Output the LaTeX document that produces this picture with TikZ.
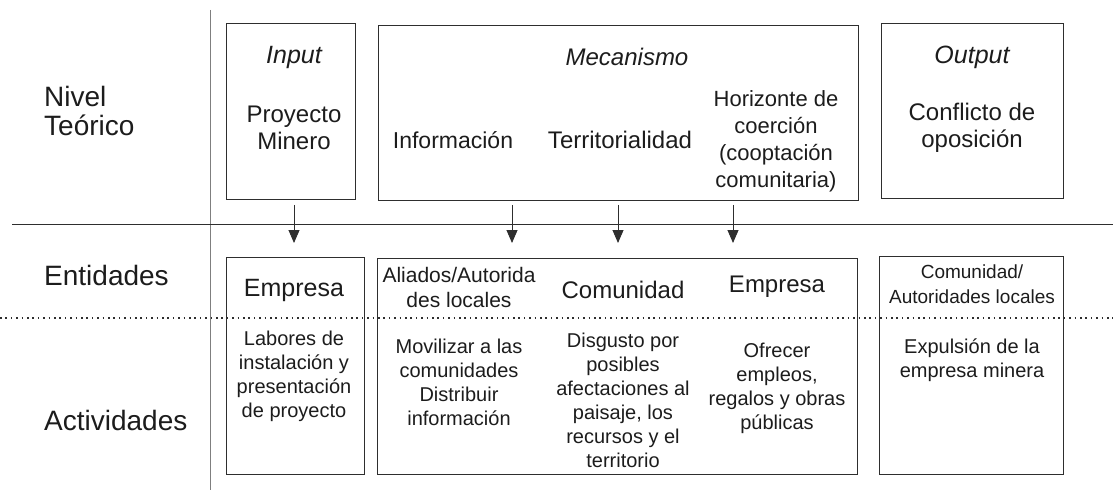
\documentclass[tikz,border=0pt]{standalone}
\usepackage{fontspec}
\setmainfont{Liberation Sans}
\usetikzlibrary{arrows.meta}
\definecolor{txt}{HTML}{1C1C1C}
\definecolor{ln}{HTML}{2E2E2E}
\definecolor{vln}{HTML}{7F7F7F}
\begin{document}
\begin{tikzpicture}[x=1pt,y=-1pt,
  box/.style={draw=ln, line width=0.9pt, inner sep=0pt},
  lab/.style={text=txt, anchor=west, align=left, inner xsep=0pt, font=\fontsize{28}{29}\selectfont},
  ttl/.style={text=txt, align=center, font=\fontsize{24}{27}\selectfont\itshape},
  toptxt/.style={text=txt, align=center, font=\fontsize{23}{27}\selectfont},
  ent/.style={text=txt, align=center, font=\fontsize{22.5}{25}\selectfont},
  act/.style={text=txt, align=center, font=\fontsize{20}{24}\selectfont},
  arr/.style={draw=ln, line width=0.9pt, -{Triangle[width=11pt,length=13pt]}}]
\useasboundingbox (0,0) rectangle (1113,497);

% frame lines
\coordinate (vt) at (210,10);
\coordinate (vb) at (210,490);
\coordinate (hl) at (12,224);
\coordinate (hr) at (1113,224);
\coordinate (dl) at (0,318);
\coordinate (dr) at (1113,318);
\draw[draw=vln, line width=1pt] (vt) -- (vb);
\draw[draw=ln, line width=0.9pt] (hl) -- (hr);

% row labels
\node[lab] (nivel) at (44,111) {Nivel\\Teórico};
\node[lab] (entid) at (44,275) {Entidades};
\node[lab] (activ) at (44,420) {Actividades};

% top boxes
\node[box, minimum width=129pt, minimum height=176pt] (inbox) at (290.5,111) {};
\node[box, minimum width=480pt, minimum height=175pt] (mechbox) at (618,112.5) {};
\node[box, minimum width=182pt, minimum height=175pt] (outbox) at (972,110.5) {};

\node[ttl, font=\fontsize{25}{27}\selectfont\itshape] (input) at (294,57) {Input};
\node[toptxt, font=\fontsize{24}{27}\selectfont] (proy) at (294,128) {Proyecto\\Minero};
\node[ttl] (mecan) at (627,57) {Mecanismo};
\node[toptxt] (info) at (453,140) {Información};
\node[toptxt, font=\fontsize{24}{27}\selectfont] (terr) at (620,140) {Territorialidad};
\node[toptxt, font=\fontsize{22}{27}\selectfont] (horiz) at (776,141) {Horizonte de\\coerción\\(cooptación\\comunitaria)};
\node[ttl, font=\fontsize{25}{27}\selectfont\itshape] (output) at (972,57) {Output};
\node[toptxt, font=\fontsize{24}{27}\selectfont] (confl) at (972,128) {Conflicto de\\oposición};

% bottom boxes
\node[box, minimum width=138pt, minimum height=217pt] (empbox) at (295,365.5) {};
\node[box, minimum width=480pt, minimum height=216pt] (midbox) at (617,366) {};
\node[box, minimum width=184pt, minimum height=218pt] (outbbox) at (971,365) {};

\node[ent, font=\fontsize{25}{27}\selectfont] (emp1) at (294,290) {Empresa};
\node[ent, font=\fontsize{21}{25}\selectfont] (aliados) at (459,287) {Aliados/Autorida\\des locales};
\node[ent, font=\fontsize{24}{27}\selectfont] (comun) at (623,290) {Comunidad};
\node[ent, font=\fontsize{24}{27}\selectfont] (emp2) at (777,287) {Empresa};
\node[ent, font=\fontsize{19}{25}\selectfont] (comaut) at (972,284) {Comunidad/\\Autoridades locales};

\node[act] (labores) at (294,376) {Labores de\\instalación y\\presentación\\de proyecto};
\node[act] (moviliz) at (459,382) {Movilizar a las\\comunidades\\Distribuir\\información};
\node[act] (disgusto) at (623,400) {Disgusto por\\posibles\\afectaciones al\\paisaje, los\\recursos y el\\territorio};
\node[act] (ofrecer) at (777,388) {Ofrecer\\empleos,\\regalos y obras\\públicas};
\node[act] (expul) at (972,360) {Expulsión de la\\empresa minera};

% dotted separator
\draw[draw=ln, line width=1.6pt, dash pattern=on 1.6pt off 3.8pt] (dl) -- (dr);

% arrows
\coordinate (a1s) at (294,205); \coordinate (a1e) at (294,243);
\coordinate (a2s) at (512,205); \coordinate (a2e) at (512,243);
\coordinate (a3s) at (618,205); \coordinate (a3e) at (618,243);
\coordinate (a4s) at (733,205); \coordinate (a4e) at (733,243);
\draw[arr] (a1s) -- (a1e);
\draw[arr] (a2s) -- (a2e);
\draw[arr] (a3s) -- (a3e);
\draw[arr] (a4s) -- (a4e);
\end{tikzpicture}
\end{document}
